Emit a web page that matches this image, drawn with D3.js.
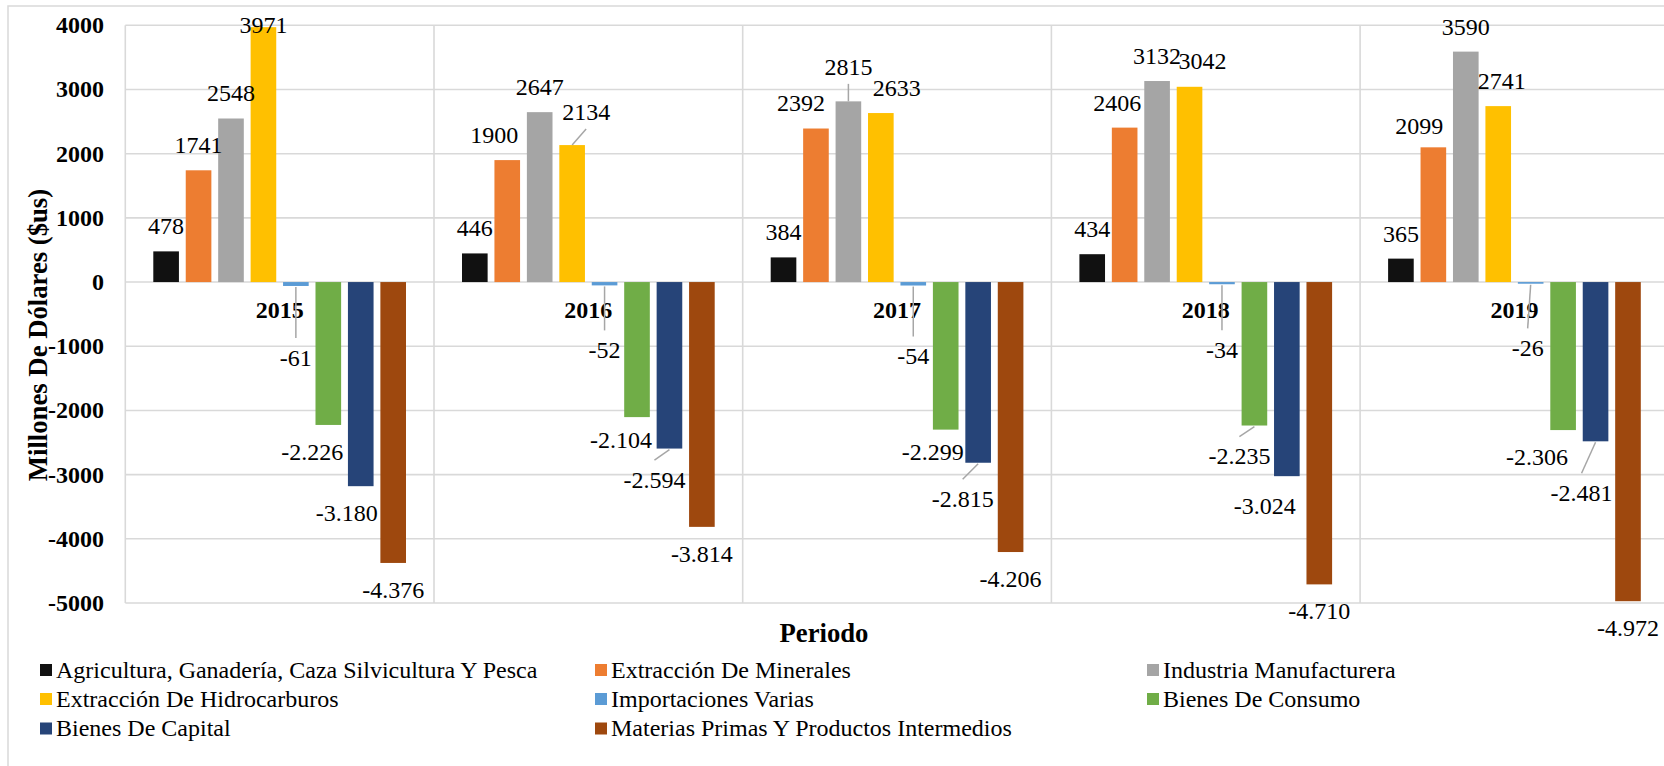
<!DOCTYPE html>
<html>
<head>
<meta charset="utf-8">
<script src="https://cdn.jsdelivr.net/npm/d3@7"></script>
<style>
  html, body { margin: 0; padding: 0; background: #fff; overflow: hidden; }
  svg { display: block; }
</style>
</head>
<body>
<svg id="chart" width="1664" height="766"></svg>
<script>
// ---------------- DATA ----------------
const years = ["2015", "2016", "2017", "2018", "2019"];
const seriesNames = [
  "Agricultura, Ganadería, Caza Silvicultura Y Pesca",
  "Extracción De Minerales",
  "Industria Manufacturera",
  "Extracción De Hidrocarburos",
  "Importaciones Varias",
  "Bienes De Consumo",
  "Bienes De Capital",
  "Materias Primas Y Productos Intermedios"
];
const agricultura   = [478, 446, 384, 434, 365];
const minerales     = [1741, 1900, 2392, 2406, 2099];
const manufactura   = [2548, 2647, 2815, 3132, 3590];
const hidrocarburos = [3971, 2134, 2633, 3042, 2741];
const importaciones = [-61, -52, -54, -34, -26];
const consumo       = [-2226, -2104, -2299, -2235, -2306];
const capital       = [-3180, -2594, -2815, -3024, -2481];
const materias      = [-4376, -3814, -4206, -4710, -4972];
const yTicks = [4000, 3000, 2000, 1000, 0, -1000, -2000, -3000, -4000, -5000];

const seriesValues = [agricultura, minerales, manufactura, hidrocarburos,
                      importaciones, consumo, capital, materias];
const colors = ["#111111", "#ED7D31", "#A5A5A5", "#FFC000",
                "#5B9BD5", "#70AD47", "#264478", "#9E480E"];

// label placement tweaks (layout only): [dx, dy, leaderLine]
const labelNudge = {
  "2015-3": [0, 23, false],
  "2015-4": [0, 45, true],
  "2015-5": [-16, 0, false],
  "2015-6": [-14, 0, false],
  "2016-1": [-13, 0, false],
  "2016-3": [14, -8, true],
  "2016-4": [0, 38, true],
  "2016-5": [-16, -4, false],
  "2016-6": [-15, 4.5, true],
  "2017-1": [-15, 0, false],
  "2017-2": [0, -9.5, true],
  "2017-3": [16, 0, false],
  "2017-4": [0, 44, true],
  "2017-5": [-13, -5, false],
  "2017-6": [-15.5, 9.5, true],
  "2018-1": [-7.5, 0, false],
  "2018-3": [13, -1, false],
  "2018-4": [0, 39, true],
  "2018-5": [-15, 4, true],
  "2018-6": [-22, 3, false],
  "2019-1": [-14, 3.5, false],
  "2019-3": [3.6, 0, false],
  "2019-4": [-3, 37.6, true],
  "2019-5": [-26, 0, false],
  "2019-6": [-14, 25, true]
};

// ---------------- LAYOUT ----------------
const FONT = "'Liberation Serif', 'Times New Roman', Times, serif";
const svg = d3.select("#chart");
const plotL = 125.3, plotR = 1668.8, plotT = 25.3, plotB = 603;
const gridColor = "#d9d9d9";

const x0 = d3.scaleBand().domain(years).range([plotL, plotR]).paddingInner(0).paddingOuter(0);
const x1 = d3.scaleBand().domain(d3.range(seriesNames.length)).range([28, x0.bandwidth() - 28]).paddingInner(0.21).paddingOuter(0);
const y = d3.scaleLinear().domain([-5000, 4000]).range([plotB, plotT]);

// chart area border
svg.append("rect")
  .attr("x", 8).attr("y", 6).attr("width", 1700).attr("height", 800)
  .attr("fill", "none").attr("stroke", gridColor).attr("stroke-width", 1.5);

// horizontal gridlines
svg.append("g").selectAll("line").data(yTicks).join("line")
  .attr("x1", plotL).attr("x2", plotR)
  .attr("y1", d => y(d)).attr("y2", d => y(d))
  .attr("stroke", gridColor).attr("stroke-width", 1.6);

// vertical category separators
const bounds = years.map(c => x0(c)).concat([plotR]);
svg.append("g").selectAll("line").data(bounds).join("line")
  .attr("x1", d => d).attr("x2", d => d)
  .attr("y1", plotT).attr("y2", plotB)
  .attr("stroke", gridColor).attr("stroke-width", 1.6);

// y tick labels
svg.append("g").selectAll("text").data(yTicks).join("text")
  .attr("x", 104).attr("y", d => y(d)).attr("dy", "0.33em")
  .attr("text-anchor", "end").attr("font-family", FONT)
  .attr("font-size", 24).attr("font-weight", "bold")
  .attr("fill", "#000").text(d => d);

// bars
const flat = [];
years.forEach((yr, ci) => {
  seriesValues.forEach((arr, si) => {
    flat.push({ year: yr, si, v: arr[ci] });
  });
});

svg.append("g").selectAll("rect").data(flat).join("rect")
  .attr("x", d => x0(d.year) + x1(d.si))
  .attr("width", x1.bandwidth())
  .attr("y", d => Math.min(y(d.v), y(0)))
  .attr("height", d => Math.abs(y(d.v) - y(0)))
  .attr("fill", d => colors[d.si]);

// category labels
svg.append("g").selectAll("text").data(years).join("text")
  .attr("x", d => x0(d) + x0.bandwidth() / 2).attr("y", 310).attr("dy", "0.33em")
  .attr("text-anchor", "middle").attr("font-family", FONT)
  .attr("font-size", 24).attr("font-weight", "bold")
  .attr("fill", "#000").text(d => d);

// data labels
const fmtNeg = v => {
  const a = Math.abs(v);
  return "-" + (a >= 1000 ? d3.format(",")(a).replace(/,/g, ".") : String(a));
};
const labelG = svg.append("g");
flat.forEach(d => {
  const cx = x0(d.year) + x1(d.si) + x1.bandwidth() / 2;
  const end = y(d.v);
  let lx = cx, ly = d.v >= 0 ? end - 25 : end + 27;
  const n = labelNudge[d.year + "-" + d.si];
  if (n) {
    lx += n[0]; ly += n[1];
    if (n[2]) {
      const ey = d.v >= 0 ? ly + 17 : ly - 20;
      labelG.append("line")
        .attr("x1", cx).attr("y1", d.v >= 0 ? end : end + 1)
        .attr("x2", lx).attr("y2", ey)
        .attr("stroke", "#a6a6a6").attr("stroke-width", 1.5);
    }
  }
  labelG.append("text")
    .attr("x", lx).attr("y", ly).attr("dy", "0.33em")
    .attr("text-anchor", "middle").attr("font-family", FONT).attr("font-size", 24)
    .attr("fill", "#000")
    .text(d.v >= 0 ? String(d.v) : fmtNeg(d.v));
});

// axis titles
svg.append("text")
  .attr("transform", "translate(38,335) rotate(-90)")
  .attr("dy", "0.33em")
  .attr("text-anchor", "middle").attr("font-family", FONT)
  .attr("font-size", 26.7).attr("font-weight", "bold")
  .attr("fill", "#000").text("Millones De Dólares ($us)");

svg.append("text")
  .attr("x", 824).attr("y", 633).attr("dy", "0.33em")
  .attr("text-anchor", "middle").attr("font-family", FONT)
  .attr("font-size", 26.7).attr("font-weight", "bold")
  .attr("fill", "#000").text("Periodo");

// legend
const colX = [40, 595, 1147];
const rowY = [670, 699, 728.5];
const legend = svg.append("g").selectAll("g").data(seriesNames).join("g")
  .attr("transform", (d, i) => `translate(${colX[i % 3]},${rowY[Math.floor(i / 3)]})`);
legend.append("rect")
  .attr("x", 0).attr("y", -6).attr("width", 12).attr("height", 12)
  .attr("fill", (d, i) => colors[i]);
legend.append("text")
  .attr("x", 16).attr("y", 0).attr("dy", "0.33em")
  .attr("font-family", FONT).attr("font-size", 24)
  .attr("fill", "#000").text(d => d);
</script>
</body>
</html>
